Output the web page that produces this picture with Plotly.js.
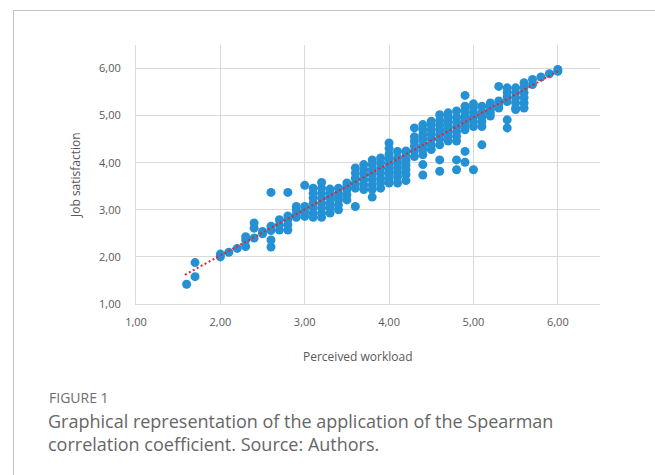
<!DOCTYPE html>
<html>
<head>
<meta charset="utf-8">
<script src="https://cdn.plot.ly/plotly-3.0.1.min.js"></script>
<style>
  html, body { margin: 0; padding: 0; background: #ffffff; }
  #wrap { position: relative; width: 655px; height: 475px; overflow: hidden; }
  #chart { position: absolute; left: 0; top: 0; width: 655px; height: 475px; }
  #frame { position: absolute; left: 13px; top: 10px; right: -2px; bottom: -2px;
           border-top: 1px solid #c4c4c4; border-left: 1px solid #c4c4c4; pointer-events: none; }
</style>
</head>
<body>
<div id="wrap">
  <div id="chart"></div>
  <div id="frame"></div>
</div>
<script>
// Perceived workload (x) columns and the job satisfaction values (y) read at each column
const colX = [1.6, 1.7, 2.0, 2.1, 2.2, 2.3, 2.4, 2.5, 2.6, 2.7, 2.8, 2.9, 3.0, 3.1, 3.2, 3.3, 3.4, 3.5,
              3.6, 3.7, 3.8, 3.9, 4.0, 4.1, 4.2, 4.3, 4.4, 4.5, 4.6, 4.7, 4.8, 4.9, 5.0, 5.1, 5.2,
              5.3, 5.4, 5.5, 5.6, 5.7, 5.8, 5.9, 6.0];
const colY = [
  [1.42],
  [1.58, 1.88],
  [2.0, 2.06],
  [2.1],
  [2.18],
  [2.22, 2.36, 2.43],
  [2.4, 2.61, 2.72],
  [2.49, 2.54],
  [2.21, 2.36, 2.56, 2.65, 3.37],
  [2.57, 2.68, 2.79],
  [2.57, 2.68, 2.79, 2.87, 3.37],
  [2.84, 2.91, 3.0, 3.07],
  [2.86, 2.96, 3.07, 3.52],
  [2.84, 2.93, 3.04, 3.14, 3.25, 3.35, 3.46],
  [2.84, 2.93, 3.04, 3.14, 3.25, 3.35, 3.46, 3.58],
  [2.93, 3.04, 3.14, 3.25, 3.35, 3.44],
  [3.0, 3.1, 3.21, 3.28, 3.35, 3.46],
  [3.21, 3.32, 3.43, 3.5, 3.57],
  [3.07, 3.46, 3.56, 3.67, 3.78, 3.89],
  [3.43, 3.53, 3.64, 3.75, 3.85, 3.96],
  [3.27, 3.43, 3.53, 3.64, 3.75, 3.85, 3.96, 4.06],
  [3.46, 3.57, 3.67, 3.78, 3.89, 4.0, 4.1],
  [3.57, 3.64, 3.75, 3.85, 3.96, 4.07, 4.18, 4.3, 4.42],
  [3.57, 3.7, 3.8, 3.9, 4.0, 4.1, 4.24],
  [3.62, 3.75, 3.85, 3.95, 4.05, 4.15, 4.25],
  [4.13, 4.25, 4.35, 4.45, 4.55, 4.74],
  [3.74, 3.96, 4.17, 4.28, 4.38, 4.5, 4.6, 4.7, 4.81],
  [4.28, 4.38, 4.5, 4.6, 4.7, 4.8, 4.88],
  [3.82, 4.06, 4.38, 4.5, 4.6, 4.7, 4.8, 4.9, 5.02],
  [4.46, 4.56, 4.66, 4.76, 4.86, 4.96, 5.06],
  [3.85, 4.06, 4.46, 4.56, 4.66, 4.76, 4.86, 4.96, 5.1],
  [4.01, 4.24, 4.7, 4.8, 4.9, 5.0, 5.1, 5.2, 5.43],
  [3.85, 4.77, 4.87, 4.97, 5.07, 5.17, 5.25],
  [4.38, 4.77, 4.87, 4.97, 5.07, 5.2],
  [4.99, 5.06, 5.13, 5.2, 5.27],
  [5.16, 5.23, 5.31, 5.62],
  [4.74, 4.91, 5.3, 5.4, 5.5, 5.59],
  [5.13, 5.16, 5.27, 5.38, 5.49, 5.59],
  [5.16, 5.27, 5.38, 5.49, 5.6, 5.7],
  [5.66, 5.77],
  [5.82],
  [5.89],
  [5.94, 5.98]
];
// Linear trend line end points
const trendX = [1.58, 6.0];
const trendY = [1.62, 5.94];
// Axis ticks
const tickVals = [1, 2, 3, 4, 5, 6];
const xTitle = 'Perceived workload';
const yTitle = 'Job satisfaction';
const figLabel = 'FIGURE 1';
const captionLines = ['Graphical representation of the application of the Spearman',
                      'correlation coefficient. Source: Authors.'];

const xs = [], ys = [];
colX.forEach((x, i) => colY[i].forEach(y => { xs.push(x); ys.push(y); }));

const W = 655, H = 475;
const M = {l: 136, r: 55, t: 45, b: 171};
const pw = W - M.l - M.r, ph = H - M.t - M.b;
const px = v => (v - M.l) / pw;
const py = v => (H - M.b - v) / ph;

const tickFont = {family: 'Open Sans, sans-serif', size: 11, color: '#595959'};
const titleFont = {family: 'Open Sans, sans-serif', size: 12, color: '#595959'};
const gridC = '#d9d9d9';

const data = [
  {x: xs, y: ys, type: 'scatter', mode: 'markers',
   marker: {color: '#2591d5', size: 9, line: {width: 0}}, hoverinfo: 'x+y', showlegend: false},
  {x: trendX, y: trendY, type: 'scatter', mode: 'lines',
   line: {color: '#e5232b', width: 2, dash: '2px,2.5px'}, showlegend: false}
];

const layout = {
  width: W, height: H,
  margin: M,
  paper_bgcolor: '#ffffff', plot_bgcolor: '#ffffff',
  separators: ',.',
  showlegend: false,
  font: {family: 'Open Sans, sans-serif', color: '#595959'},
  xaxis: {
    range: [1, 6.5], tickvals: tickVals, tickformat: '.2f',
    showgrid: true, gridcolor: gridC, gridwidth: 1, zeroline: false,
    showline: true, linecolor: gridC, linewidth: 1, ticks: '',
    tickfont: tickFont, ticklabelstandoff: 8
  },
  yaxis: {
    range: [1, 6.5], tickvals: tickVals, tickformat: '.2f',
    showgrid: true, gridcolor: gridC, gridwidth: 1, zeroline: false,
    showline: true, linecolor: gridC, linewidth: 1, ticks: '',
    tickfont: tickFont, ticklabelstandoff: 12
  },
  annotations: [
    {text: xTitle, xref: 'paper', yref: 'paper', x: px(358), y: py(356), xanchor: 'center', yanchor: 'middle',
     showarrow: false, font: titleFont},
    {text: yTitle, xref: 'paper', yref: 'paper', x: px(75), y: py(175), xanchor: 'center', yanchor: 'middle',
     textangle: -90, showarrow: false, font: titleFont},
    {text: figLabel, xref: 'paper', yref: 'paper', x: px(47), y: py(397), xanchor: 'left', yanchor: 'middle',
     showarrow: false, font: {family: 'Open Sans, sans-serif', size: 14, color: '#6e6e6e'}},
    {text: captionLines[0], xref: 'paper', yref: 'paper', x: px(46), y: py(421), xanchor: 'left', yanchor: 'middle',
     showarrow: false, font: {family: 'Open Sans, sans-serif', size: 18, color: '#666666'}},
    {text: captionLines[1], xref: 'paper', yref: 'paper', x: px(46), y: py(444), xanchor: 'left', yanchor: 'middle',
     showarrow: false, font: {family: 'Open Sans, sans-serif', size: 18, color: '#666666'}}
  ]
};

Plotly.newPlot('chart', data, layout, {displayModeBar: false, staticPlot: true});
</script>
</body>
</html>
